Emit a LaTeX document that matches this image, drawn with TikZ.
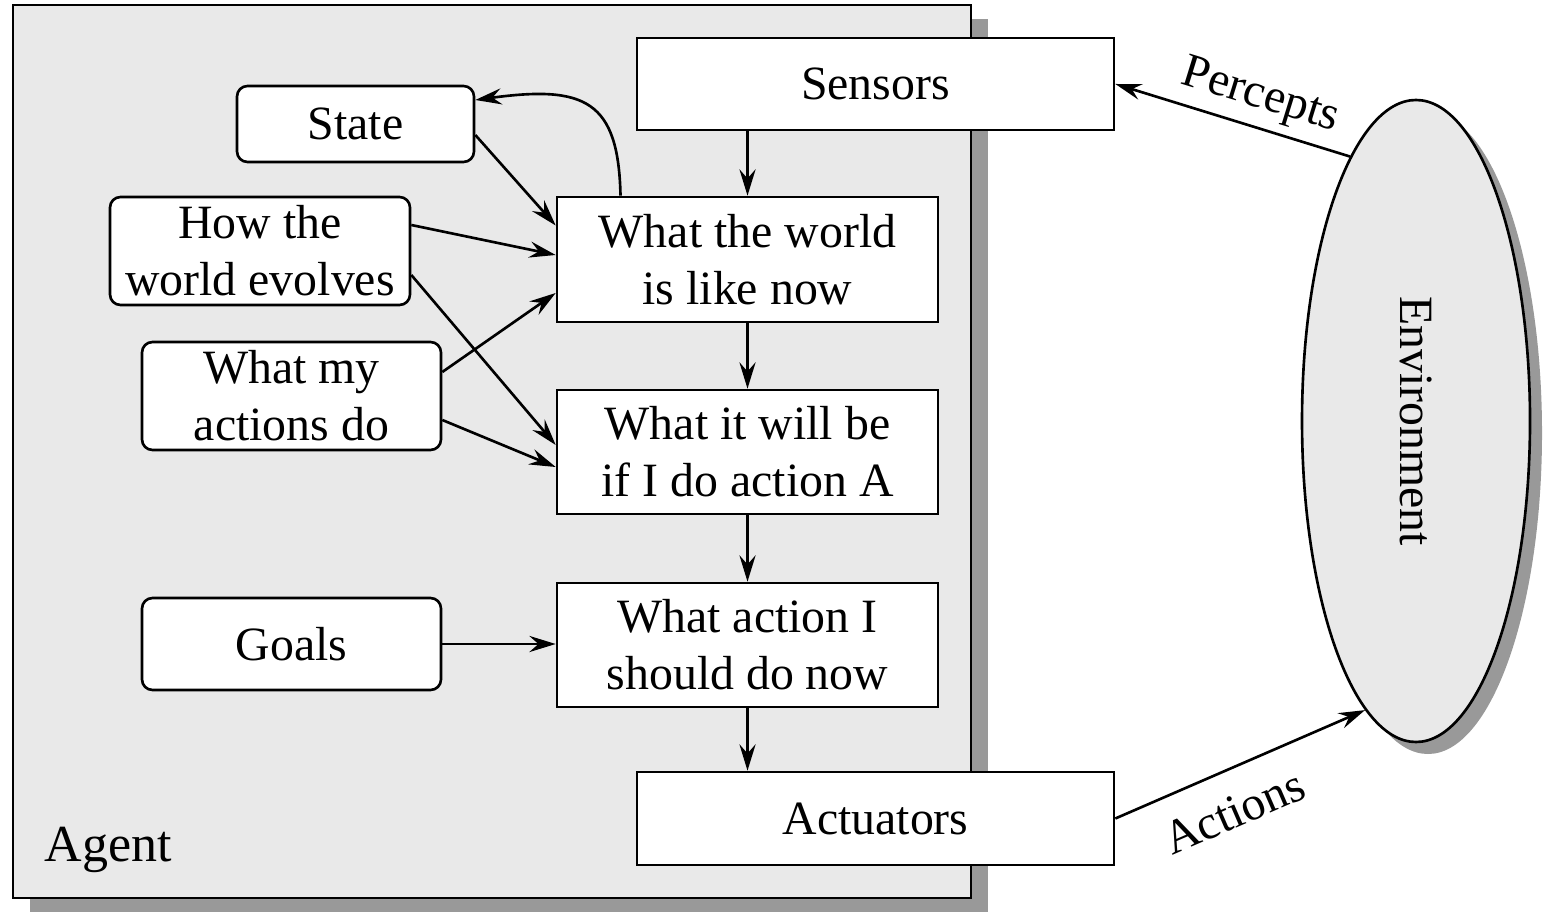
\documentclass[tikz,border=0pt]{standalone}
\usepackage{fontspec}
\setmainfont{Liberation Serif}
\usepackage{tikz}
\usetikzlibrary{arrows.meta,shapes.geometric,shadows}
\definecolor{AgentFill}{HTML}{E9E9E9}
\definecolor{ShadowGray}{HTML}{999999}

\tikzset{
  arr/.style={line width=0.75pt,-{Stealth[length=7.5pt,width=4.6pt,inset=2.6pt]}},
  rarr/.style={line width=0.75pt,{Stealth[length=7.5pt,width=4.6pt,inset=2.6pt]}-},
  plainbox/.style={draw,line width=0.75pt,fill=white,align=center,inner sep=2pt},
  softbox/.style={plainbox,rounded corners=3pt},
  envshape/.style={draw,ellipse,line width=0.75pt,fill=AgentFill,
    minimum width=2.28cm,minimum height=6.42cm,
    drop shadow={shadow xshift=0.12cm,shadow yshift=-0.12cm,fill=ShadowGray,opacity=1}}
}

\begin{document}
\begin{tikzpicture}[x=1cm,y=1cm,
  every node/.append style={font=\fontsize{13.6}{16.2}\selectfont}]
  \useasboundingbox (0,0) rectangle (15.48,9.12);
  % agent frame with its shadow
  \fill[ShadowGray] (0.30,0.00) rectangle (9.88,8.93);
  \draw[fill=AgentFill,line width=0.75pt] (0.13,0.14) rectangle (9.71,9.07);
  \node[font=\fontsize{14.8}{17}\selectfont] (agentlbl) at (1.085,0.62) {Agent};

  \node[plainbox,minimum width=4.77cm,minimum height=0.92cm] (sensors) at (8.755,8.28) {Sensors};
  \node[plainbox,minimum width=4.77cm,minimum height=0.93cm] (actuators) at (8.755,0.935) {Actuators};
  \node[plainbox,minimum width=3.81cm,minimum height=1.25cm] (now) at (7.475,6.525)
    {What the world\\is like now};
  \node[plainbox,minimum width=3.81cm,minimum height=1.24cm] (willbe) at (7.475,4.60)
    {What it will be\\if I do action A};
  \node[plainbox,minimum width=3.81cm,minimum height=1.24cm] (actnow) at (7.475,2.67)
    {What action I\\should do now};

  \node[softbox,minimum width=2.37cm,minimum height=0.76cm] (state) at (3.555,7.88) {State};
  \node[softbox,minimum width=3.00cm,minimum height=1.08cm] (evolve) at (2.60,6.61)
    {How the\\world evolves};
  \node[softbox,minimum width=2.99cm,minimum height=1.08cm] (actdo) at (2.915,5.16)
    {What my\\actions do};
  \node[softbox,minimum width=2.99cm,minimum height=0.92cm] (goals) at (2.915,2.68) {Goals};

  \node[envshape] (env) at (14.16,4.91) {\rotatebox{-90}{Environment}};

  % main chain down the middle
  \draw[arr] (sensors.south -| now.north) -- (now.north);
  \foreach \a/\b in {now/willbe,willbe/actnow}
    \draw[arr] (\a.south) -- (\b.north);
  \draw[arr] (actnow.south) -- (actnow.south |- actuators.north);

  \draw[arr] ([yshift=-0.11cm]state.east) -- ([yshift=0.34cm]now.west);
  \draw[arr] ([yshift=0.26cm]evolve.east) -- ([yshift=0.045cm]now.west);
  \draw[arr] ([yshift=-0.24cm]evolve.east) -- ([yshift=0.07cm]willbe.west);
  \draw[arr] ([yshift=0.24cm]actdo.east) -- ([yshift=-0.335cm]now.west);
  \draw[arr] ([yshift=-0.24cm]actdo.east) -- ([yshift=-0.15cm]willbe.west);
  \draw[arr] (goals.east) -- (goals.east -| actnow.west);
  \draw[arr] ([xshift=-1.27cm]now.north) .. controls +(-0.02,0.95) and +(1.1,0.15) ..
    ([yshift=0.24cm]state.east);

  % links to the environment
  \draw[rarr] (sensors.east) -- node[sloped,above=-1pt,pos=0.58] {Percepts} (env.104);
  \draw[arr] (actuators.east) -- node[sloped,below=3.5pt,pos=0.41] {Actions} (env.260);
\end{tikzpicture}
\end{document}
